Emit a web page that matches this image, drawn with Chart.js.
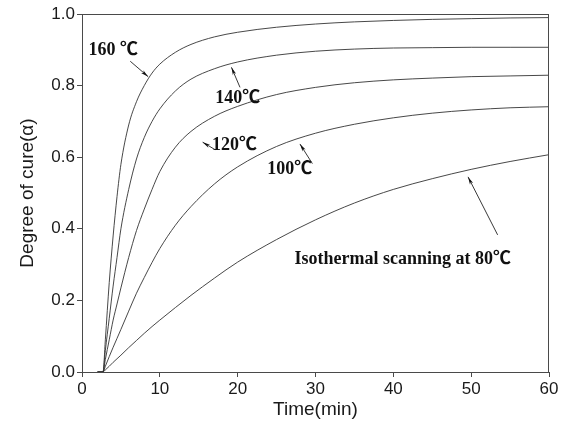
<!DOCTYPE html>
<html>
<head>
<meta charset="utf-8">
<script src="https://cdn.jsdelivr.net/npm/chart.js@4/dist/chart.umd.min.js"></script>
<style>
  html, body { margin: 0; padding: 0; background: #fff; }
  #wrap { width: 566px; height: 429px; }
</style>
</head>
<body>
<div id="wrap"><canvas id="c" width="566" height="429"></canvas></div>
<script>
// Cure time, minutes
const timeMin = [2, 2.7, 3, 3.5, 4, 4.5, 5, 6, 7, 8, 9, 10, 12, 14, 17, 20, 25, 30, 35, 40, 45, 50, 55, 60];

// Degree of cure (alpha) for each isothermal temperature
const cure160 = [0, 0, 0.09, 0.25, 0.38, 0.49, 0.58, 0.69, 0.755, 0.80, 0.835, 0.86, 0.893, 0.915, 0.936, 0.949, 0.963, 0.972, 0.978, 0.982, 0.985, 0.987, 0.989, 0.990];
const cure140 = [0, 0, 0.06, 0.15, 0.24, 0.32, 0.40, 0.51, 0.595, 0.655, 0.70, 0.735, 0.785, 0.818, 0.847, 0.866, 0.885, 0.896, 0.902, 0.905, 0.906, 0.907, 0.907, 0.907];
const cure120 = [0, 0, 0.035, 0.09, 0.145, 0.19, 0.235, 0.32, 0.395, 0.455, 0.51, 0.56, 0.628, 0.672, 0.714, 0.742, 0.775, 0.795, 0.808, 0.816, 0.821, 0.825, 0.827, 0.829];
const cure100 = [0, 0, 0.016, 0.043, 0.069, 0.094, 0.119, 0.17, 0.22, 0.264, 0.306, 0.345, 0.41, 0.462, 0.525, 0.573, 0.63, 0.667, 0.692, 0.71, 0.723, 0.732, 0.738, 0.741];
const cure80  = [0, 0, 0.006, 0.016, 0.027, 0.037, 0.047, 0.068, 0.088, 0.108, 0.127, 0.145, 0.18, 0.214, 0.262, 0.307, 0.37, 0.425, 0.472, 0.51, 0.54, 0.566, 0.588, 0.607];

const seriesNames = ['160℃', '140℃', '120℃', '100℃', '80℃'];
const seriesValues = [cure160, cure140, cure120, cure100, cure80];

// Axis ticks
const xTickValues = [0, 10, 20, 30, 40, 50, 60];
const yTickValues = [0.0, 0.2, 0.4, 0.6, 0.8, 1.0];

// Curve labels: text, text anchor (time, alpha), arrow tail and arrow head (time, alpha)
const curveNotes = [
  { text: '160 ℃', at: [4.0, 0.898], from: [6.2, 0.868], to: [8.5, 0.825] },
  { text: '140℃', at: [20.0, 0.764], from: [20.3, 0.795], to: [19.2, 0.851] },
  { text: '120℃', at: [19.6, 0.632], from: [17.1, 0.621], to: [15.5, 0.642] },
  { text: '100℃', at: [26.7, 0.565], from: [29.6, 0.582], to: [28.0, 0.637] },
  { text: 'Isothermal scanning at 80℃', at: [41.2, 0.316], from: [53.4, 0.383], to: [49.6, 0.545] }
];

const AXIS_COLOR = '#4a4a4a';
const LINE_COLOR = '#333333';

const datasets = seriesNames.map((name, k) => ({
  label: name,
  data: timeMin.map((t, i) => ({ x: t, y: seriesValues[k][i] })),
  borderColor: LINE_COLOR,
  borderWidth: 0.9,
  pointRadius: 0,
  fill: false,
  cubicInterpolationMode: 'monotone'
}));

// Closes the plot box and draws the curve labels with their arrows
const notesPlugin = {
  id: 'notes',
  afterDatasetsDraw(chart) {
    const { ctx, chartArea: a, scales: { x, y } } = chart;
    ctx.save();
    ctx.strokeStyle = AXIS_COLOR;
    ctx.lineWidth = 1;
    ctx.beginPath();
    ctx.moveTo(a.left, a.top + 0.5);
    ctx.lineTo(a.right, a.top + 0.5);
    ctx.moveTo(a.right - 0.5, a.top);
    ctx.lineTo(a.right - 0.5, a.bottom);
    ctx.stroke();

    ctx.fillStyle = '#111';
    ctx.strokeStyle = '#222';
    ctx.font = 'bold 18px "Liberation Serif", "Times New Roman", "Noto Sans CJK SC", serif';
    ctx.textAlign = 'center';
    ctx.textBaseline = 'middle';
    curveNotes.forEach(n => {
      ctx.fillText(n.text, x.getPixelForValue(n.at[0]), y.getPixelForValue(n.at[1]));
      const x0 = x.getPixelForValue(n.from[0]), y0 = y.getPixelForValue(n.from[1]);
      const x1 = x.getPixelForValue(n.to[0]), y1 = y.getPixelForValue(n.to[1]);
      ctx.lineWidth = 0.9;
      ctx.beginPath();
      ctx.moveTo(x0, y0);
      ctx.lineTo(x1, y1);
      ctx.stroke();
      const ang = Math.atan2(y1 - y0, x1 - x0);
      const len = 8, half = 0.22;
      ctx.beginPath();
      ctx.moveTo(x1, y1);
      ctx.lineTo(x1 - len * Math.cos(ang - half), y1 - len * Math.sin(ang - half));
      ctx.lineTo(x1 - len * 0.7 * Math.cos(ang), y1 - len * 0.7 * Math.sin(ang));
      ctx.lineTo(x1 - len * Math.cos(ang + half), y1 - len * Math.sin(ang + half));
      ctx.closePath();
      ctx.fill();
    });
    ctx.restore();
  }
};

new Chart(document.getElementById('c'), {
  type: 'line',
  data: { datasets },
  options: {
    responsive: false,
    animation: false,
    events: [],
    layout: { padding: { top: 14, right: 17, left: 0, bottom: 0 } },
    plugins: { legend: { display: false }, tooltip: { enabled: false } },
    scales: {
      x: {
        type: 'linear',
        min: 0,
        max: 60,
        afterBuildTicks(scale) { scale.ticks = xTickValues.map(v => ({ value: v })); },
        afterFit(scale) { scale.height = 57; },
        ticks: {
          color: '#1a1a1a',
          font: { family: '"Liberation Sans", Arial, sans-serif', size: 17 },
          padding: 2,
          maxRotation: 0,
          callback: v => String(v)
        },
        grid: { drawOnChartArea: false, drawTicks: true, tickLength: 5, color: AXIS_COLOR },
        border: { display: true, color: AXIS_COLOR, width: 1 },
        title: {
          display: true,
          text: 'Time(min)',
          color: '#1a1a1a',
          font: { family: '"Liberation Sans", Arial, sans-serif', size: 19 },
          padding: { top: 0, bottom: 8 }
        }
      },
      y: {
        type: 'linear',
        min: 0,
        max: 1,
        afterBuildTicks(scale) { scale.ticks = yTickValues.map(v => ({ value: v })); },
        afterFit(scale) { scale.width = 82; },
        ticks: {
          color: '#1a1a1a',
          font: { family: '"Liberation Sans", Arial, sans-serif', size: 17 },
          padding: 2,
          callback: v => Number(v).toFixed(1)
        },
        grid: { drawOnChartArea: false, drawTicks: true, tickLength: 5, color: AXIS_COLOR },
        border: { display: true, color: AXIS_COLOR, width: 1 },
        title: {
          display: true,
          text: 'Degree of cure(α)',
          color: '#1a1a1a',
          font: { family: '"Liberation Sans", Arial, sans-serif', size: 19 },
          padding: { top: 16, bottom: 0 }
        }
      }
    }
  },
  plugins: [notesPlugin]
});
</script>
</body>
</html>
